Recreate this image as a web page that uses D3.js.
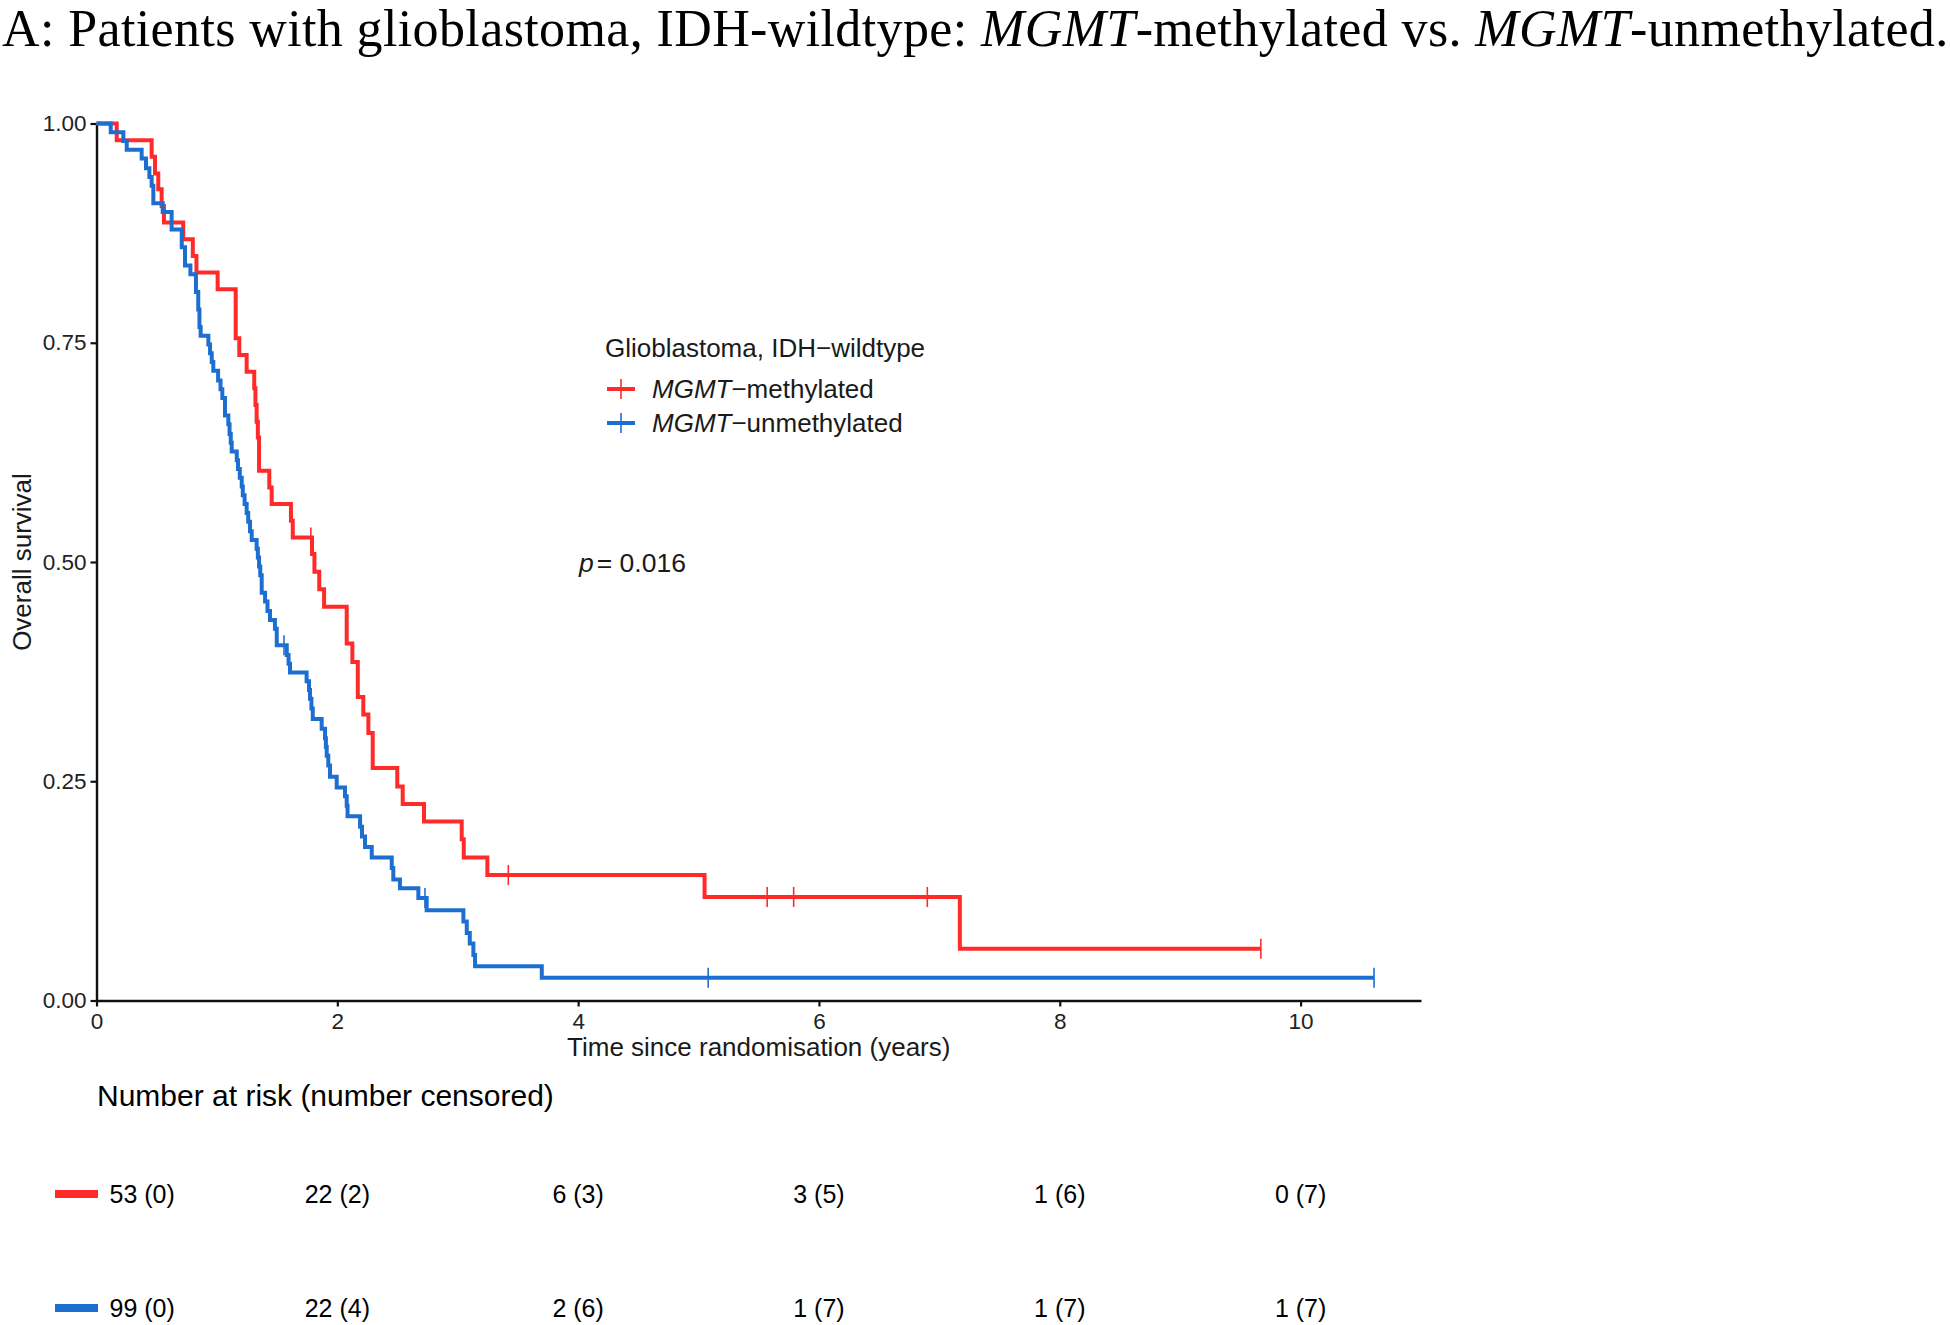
<!DOCTYPE html>
<html><head><meta charset="utf-8">
<script src="https://cdn.jsdelivr.net/npm/d3@7"></script>
<style>
html,body{margin:0;padding:0;background:#fff;}
svg{display:block;}
text{font-family:"Liberation Sans",Arial,sans-serif;fill:#1a1a1a;}
</style></head>
<body>
<svg id="chart" width="1950" height="1325"></svg>
<script>
// ---- data ----
const seriesNames = ["MGMT\u2212methylated", "MGMT\u2212unmethylated"];
// Kaplan–Meier steps: time of drop (years) and survival after the drop
const methTimes = [0.168,0.458,0.486,0.513,0.541,0.560,0.720,0.800,0.830,1.006,1.156,1.186,1.247,1.310,1.320,1.330,1.340,1.350,1.435,1.455,1.615,1.630,1.790,1.810,1.850,1.890,2.078,2.125,2.170,2.216,2.258,2.294,2.498,2.543,2.720,3.033,3.050,3.246,5.050,7.170];
const methSurv  = [0.981,0.962,0.943,0.925,0.906,0.887,0.868,0.849,0.830,0.811,0.755,0.736,0.717,0.698,0.679,0.660,0.642,0.604,0.585,0.566,0.547,0.528,0.509,0.489,0.469,0.449,0.407,0.386,0.346,0.326,0.305,0.265,0.244,0.224,0.204,0.184,0.163,0.143,0.118,0.059];
const methCensor = [1.78,3.42,5.57,5.79,6.90,9.67];
const methEnd = 9.67;

const unmethTimes = [0.118,0.223,0.251,0.375,0.411,0.439,0.458,0.472,0.550,0.624,0.708,0.735,0.780,0.826,0.845,0.855,0.865,0.929,0.943,0.957,0.970,1.010,1.030,1.045,1.067,1.095,1.105,1.115,1.123,1.165,1.175,1.190,1.206,1.215,1.230,1.247,1.260,1.275,1.289,1.330,1.340,1.350,1.360,1.372,1.400,1.420,1.441,1.482,1.497,1.580,1.595,1.607,1.745,1.765,1.773,1.785,1.796,1.870,1.898,1.905,1.912,1.925,1.939,1.995,2.064,2.078,2.085,2.189,2.205,2.230,2.286,2.452,2.465,2.520,2.673,2.742,3.047,3.075,3.100,3.130,3.144,3.698];
const unmethSurv  = [0.990,0.980,0.970,0.960,0.949,0.939,0.929,0.909,0.899,0.879,0.859,0.838,0.828,0.808,0.788,0.768,0.758,0.748,0.738,0.728,0.718,0.707,0.697,0.687,0.667,0.657,0.646,0.636,0.626,0.616,0.606,0.596,0.586,0.576,0.566,0.556,0.546,0.535,0.525,0.515,0.505,0.495,0.485,0.465,0.455,0.444,0.434,0.424,0.405,0.394,0.384,0.374,0.364,0.354,0.344,0.333,0.321,0.310,0.299,0.289,0.279,0.268,0.255,0.243,0.233,0.222,0.210,0.198,0.187,0.175,0.163,0.151,0.138,0.128,0.117,0.103,0.090,0.077,0.065,0.052,0.039,0.026];
const unmethCensor = [1.557,2.728,5.08,10.61];
const unmethEnd = 10.61;

const xTicks = [0,2,4,6,8,10];
const yTicks = [0,0.25,0.5,0.75,1];
const riskTimes = [0,2,4,6,8,10];
const riskMeth   = ["53 (0)","22 (2)","6 (3)","3 (5)","1 (6)","0 (7)"];
const riskUnmeth = ["99 (0)","22 (4)","2 (6)","1 (7)","1 (7)","1 (7)"];
const pValue = "0.016";

// ---- drawing ----
const colors = ["#ff2b2b", "#1c6fd1"];
const svg = d3.select("#chart");
const x = d3.scaleLinear().domain([0, 11]).range([96.5, 1421]);
const y = d3.scaleLinear().domain([0, 1]).range([1000.5, 123.5]);

// Title
const title = svg.append("text").attr("x", 2).attr("y", 46)
  .style("font-family", '"Liberation Serif","Times New Roman",serif')
  .style("font-size", "52px").style("letter-spacing", "0.38px").style("fill", "#000");
title.append("tspan").text("A: Patients with glioblastoma, IDH-wildtype: ");
title.append("tspan").style("font-style", "italic").text("MGMT");
title.append("tspan").text("-methylated vs. ");
title.append("tspan").style("font-style", "italic").text("MGMT");
title.append("tspan").text("-unmethylated.");

// Axes
const yAxis = svg.append("g").attr("transform", `translate(${x(0)},0)`)
  .call(d3.axisLeft(y).tickValues(yTicks).tickFormat(d3.format(".2f")).tickSize(6).tickSizeOuter(0).tickPadding(4));
const xAxis = svg.append("g").attr("transform", `translate(0,${y(0)})`)
  .call(d3.axisBottom(x).tickValues(xTicks).tickFormat(d3.format("d")).tickSize(6).tickSizeOuter(0).tickPadding(7));
[yAxis, xAxis].forEach(g => {
  g.select(".domain").attr("stroke", "#111").attr("stroke-width", 2.4);
  g.selectAll(".tick line").attr("stroke", "#111").attr("stroke-width", 2.2);
  g.selectAll(".tick text").style("font-size", "22.5px").style("fill", "#222")
    .style("font-family", '"Liberation Sans",Arial,sans-serif');
});

// Axis titles
svg.append("text").attr("x", (x.range()[0] + x.range()[1]) / 2).attr("y", 1056)
  .attr("text-anchor", "middle").style("font-size", "26px").text("Time since randomisation (years)");
svg.append("text").attr("transform", `translate(31,${(y(0) + y(1)) / 2}) rotate(-90)`)
  .attr("text-anchor", "middle").style("font-size", "26px").text("Overall survival");

// Curves
function stepData(times, surv, end) {
  const d = [{t: 0, s: 1}];
  times.forEach((t, i) => d.push({t: t, s: surv[i]}));
  d.push({t: end, s: surv[surv.length - 1]});
  return d;
}
function survAt(times, surv, t) {
  let s = 1;
  for (let i = 0; i < times.length; i++) if (times[i] <= t) s = surv[i];
  return s;
}
const line = d3.line().x(d => x(d.t)).y(d => y(d.s)).curve(d3.curveStepAfter);
const groups = [
  {times: methTimes, surv: methSurv, cens: methCensor, end: methEnd, color: colors[0]},
  {times: unmethTimes, surv: unmethSurv, cens: unmethCensor, end: unmethEnd, color: colors[1]}
];
groups.forEach(g => {
  svg.append("path").datum(stepData(g.times, g.surv, g.end))
    .attr("d", line).attr("fill", "none").attr("stroke", g.color)
    .attr("stroke-width", 4).attr("stroke-linejoin", "miter").attr("stroke-linecap", "butt");
  svg.selectAll(null).data(g.cens).enter().append("line")
    .attr("x1", d => x(d)).attr("x2", d => x(d))
    .attr("y1", d => y(survAt(g.times, g.surv, d)) - 10)
    .attr("y2", d => y(survAt(g.times, g.surv, d)) + 10)
    .attr("stroke", g.color).attr("stroke-width", 1.6);
});

// Legend
svg.append("text").attr("x", 605).attr("y", 357).style("font-size", "26px")
  .text("Glioblastoma, IDH\u2212wildtype");
seriesNames.forEach((name, i) => {
  const cy = 389 + i * 34;
  svg.append("line").attr("x1", 607).attr("x2", 635).attr("y1", cy).attr("y2", cy)
    .attr("stroke", colors[i]).attr("stroke-width", 4);
  svg.append("line").attr("x1", 621).attr("x2", 621).attr("y1", cy - 10).attr("y2", cy + 10)
    .attr("stroke", colors[i]).attr("stroke-width", 1.6);
  const parts = name.split("\u2212");
  const t = svg.append("text").attr("x", 652).attr("y", cy + 9).style("font-size", "26px");
  t.append("tspan").style("font-style", "italic").text(parts[0]);
  t.append("tspan").text("\u2212" + parts[1]);
});

// p-value
const pt = svg.append("text").attr("x", 579).attr("y", 572).style("font-size", "26.5px");
pt.append("tspan").style("font-style", "italic").text("p");
pt.append("tspan").attr("dx", 3).text("= " + pValue);

// Risk table
svg.append("text").attr("x", 97).attr("y", 1106).style("font-size", "30px").style("fill", "#000")
  .text("Number at risk (number censored)");
[riskMeth, riskUnmeth].forEach((row, i) => {
  const cy = 1194 + i * 114;
  svg.append("rect").attr("x", 55).attr("y", cy - 4).attr("width", 43).attr("height", 8).attr("fill", colors[i]);
  svg.selectAll(null).data(row).enter().append("text")
    .attr("x", (d, j) => j === 0 ? x(riskTimes[j]) + 13 : x(riskTimes[j]))
    .attr("y", cy + 9)
    .attr("text-anchor", (d, j) => j === 0 ? "start" : "middle")
    .style("font-size", "25px").style("fill", "#000")
    .text(d => d);
});
</script>
</body></html>
